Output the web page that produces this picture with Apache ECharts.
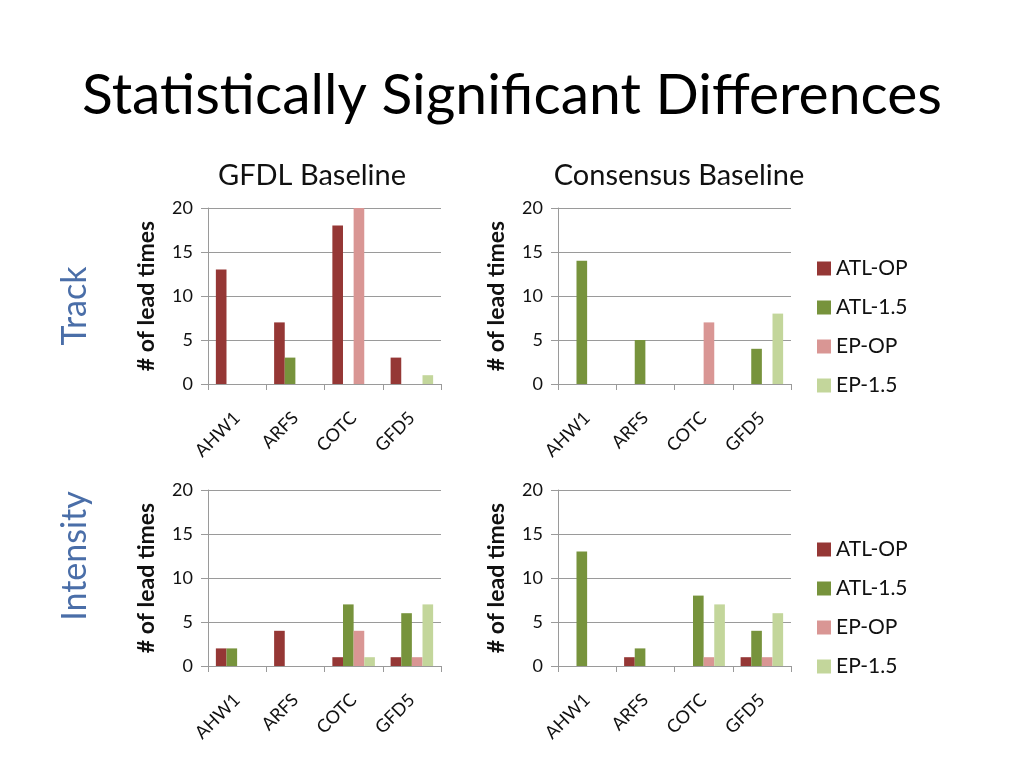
<!DOCTYPE html>
<html><head><meta charset="utf-8">
<script src="https://cdn.jsdelivr.net/npm/echarts@6/dist/echarts.min.js"></script>
<style>html,body{margin:0;padding:0;background:#fff}#c{width:1024px;height:768px}</style>
</head><body><div id="c"></div>
<script>
const categories = ['AHW1','ARFS','COTC','GFD5'];
const seriesNames = ['ATL-OP','ATL-1.5','EP-OP','EP-1.5'];
const colors = ['#953735','#77933C','#D99694','#C3D69B'];
const yTicks = [0,5,10,15,20];

// Track, GFDL baseline
const trackGfdlAtlOp  = [13,7,18,3];
const trackGfdlAtl15  = [0,3,0,0];
const trackGfdlEpOp   = [0,0,20,0];
const trackGfdlEp15   = [0,0,0,1];
// Track, Consensus baseline
const trackConsAtlOp  = [0,0,0,0];
const trackConsAtl15  = [14,5,0,4];
const trackConsEpOp   = [0,0,7,0];
const trackConsEp15   = [0,0,0,8];
// Intensity, GFDL baseline
const intGfdlAtlOp    = [2,4,1,1];
const intGfdlAtl15    = [2,0,7,6];
const intGfdlEpOp     = [0,0,4,1];
const intGfdlEp15     = [0,0,1,7];
// Intensity, Consensus baseline
const intConsAtlOp    = [0,1,0,1];
const intConsAtl15    = [13,2,8,4];
const intConsEpOp     = [0,0,1,1];
const intConsEp15     = [0,0,7,6];

const panels = [
  [trackGfdlAtlOp, trackGfdlAtl15, trackGfdlEpOp, trackGfdlEp15],
  [trackConsAtlOp, trackConsAtl15, trackConsEpOp, trackConsEp15],
  [intGfdlAtlOp, intGfdlAtl15, intGfdlEpOp, intGfdlEp15],
  [intConsAtlOp, intConsAtl15, intConsEpOp, intConsEp15]
];

const FONT = 'Lato, "Open Sans", sans-serif';
const grids = [
  {left:208, top:208, width:233, height:176},
  {left:558, top:208, width:233, height:176},
  {left:208, top:490, width:233, height:176},
  {left:558, top:490, width:233, height:176}
];
const gray = '#9a9a9a';
const xAxes = grids.map((g,i)=>({
  type:'category', gridIndex:i, data:categories,
  axisLine:{lineStyle:{color:gray}},
  axisTick:{show:true, length:6, lineStyle:{color:gray}},
  axisLabel:{rotate:45, margin:31, color:'#111', fontSize:18, fontFamily:FONT, interval:0}
}));
const yAxes = grids.map((g,i)=>({
  type:'value', gridIndex:i, min:yTicks[0], max:yTicks[yTicks.length-1], interval:5,
  name:'# of lead times', nameLocation:'middle', nameRotate:90, nameGap:50,
  nameTextStyle:{fontSize:23, fontWeight:'bold', color:'#111', fontFamily:FONT},
  axisLine:{show:true, lineStyle:{color:gray}},
  axisTick:{show:true, length:7, lineStyle:{color:gray}},
  splitLine:{lineStyle:{color:gray}},
  axisLabel:{margin:15, color:'#111', fontSize:18, fontFamily:FONT}
}));
const series = [];
panels.forEach((p,i)=>{
  p.forEach((vals,j)=>{
    series.push({type:'bar', name:seriesNames[j], xAxisIndex:i, yAxisIndex:i,
      data:vals, barGap:'0%', barCategoryGap:'27%', itemStyle:{color:colors[j]}, silent:true});
  });
});
const legendBase = {orient:'vertical', left:817, padding:0, itemWidth:14, itemHeight:14, itemGap:18,
  icon:'rect', data:seriesNames, selectedMode:false,
  textStyle:{fontSize:21, color:'#111', fontFamily:FONT}};

const option = {
  animation:false,
  color:colors,
  title:[
    {text:'Statistically Significant Differences', left:'center', top:62,
     textStyle:{fontSize:57, fontWeight:'normal', color:'#000', fontFamily:FONT}},
    {text:'GFDL Baseline', left:307, textAlign:'center', top:156,
     textStyle:{fontSize:29, fontWeight:'normal', color:'#111', fontFamily:FONT}},
    {text:'Consensus Baseline', left:674, textAlign:'center', top:156,
     textStyle:{fontSize:29, fontWeight:'normal', color:'#111', fontFamily:FONT}}
  ],
  graphic:[
    {type:'text', x:75, y:306, rotation:Math.PI/2,
     style:{text:'Track', fill:'#4A6EA8', font:'34px '+FONT, textAlign:'center', textVerticalAlign:'middle'}},
    {type:'text', x:75, y:556, rotation:Math.PI/2,
     style:{text:'Intensity', fill:'#4A6EA8', font:'34px '+FONT, textAlign:'center', textVerticalAlign:'middle'}}
  ],
  legend:[
    Object.assign({}, legendBase, {top:258}),
    Object.assign({}, legendBase, {top:539})
  ],
  grid:grids,
  xAxis:xAxes,
  yAxis:yAxes,
  series:series
};
const chart = echarts.init(document.getElementById('c'));
chart.setOption(option);
</script></body></html>
